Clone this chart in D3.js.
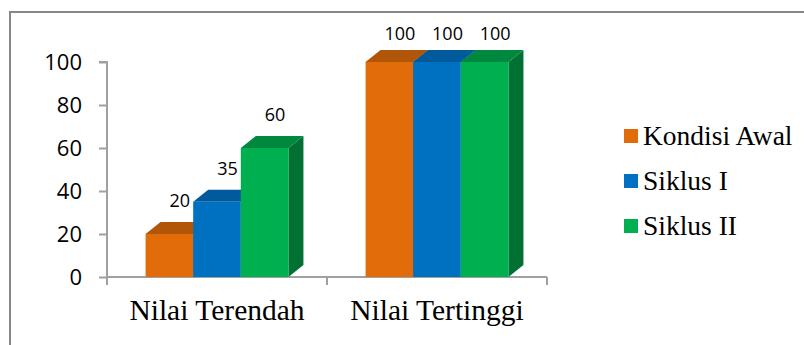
<!DOCTYPE html>
<html>
<head>
<meta charset="utf-8">
<script src="https://cdn.jsdelivr.net/npm/d3@7"></script>
<style>
  html, body { margin: 0; padding: 0; background: #fff; }
  svg { display: block; }
</style>
</head>
<body>
<svg id="chart" width="804" height="345"></svg>
<script>
// Scores per category and cycle
const categories = ["Nilai Terendah", "Nilai Tertinggi"];
const seriesNames = ["Kondisi Awal", "Siklus I", "Siklus II"];
const kondisiAwal = [20, 100];
const siklusI = [35, 100];
const siklusII = [60, 100];
const yTicks = [0, 20, 40, 60, 80, 100];

const seriesValues = [kondisiAwal, siklusI, siklusII];
// front / top / side shades for each series
const faceColors = [
  { front: "#E36C0A", top: "#B15508", side: "#9C4A06" },
  { front: "#0070C0", top: "#005A9C", side: "#004E88" },
  { front: "#00B050", top: "#00893E", side: "#007033" }
];

const svg = d3.select("#chart");

// outer frame
svg.append("rect")
  .attr("x", 10).attr("y", 12)
  .attr("width", 820).attr("height", 360)
  .attr("fill", "none")
  .attr("stroke", "#878787")
  .attr("stroke-width", 2);

const plot = { left: 107, right: 547, top: 62, bottom: 277 };
const depth = { dx: 15, dy: 12 };

const x0 = d3.scaleBand()
  .domain(categories)
  .range([plot.left, plot.right]);

const x1 = d3.scaleBand()
  .domain(seriesNames)
  .range([0, x0.bandwidth()])
  .paddingInner(0)
  .paddingOuter(0.81);

const y = d3.scaleLinear()
  .domain([0, 100])
  .range([plot.bottom, plot.top]);

// y axis
const yAxis = d3.axisLeft(y)
  .tickValues(yTicks)
  .tickSize(8)
  .tickPadding(17)
  .tickFormat(d3.format("d"));

const gy = svg.append("g")
  .attr("transform", `translate(${plot.left},0)`)
  .call(yAxis);
gy.select(".domain").attr("stroke", "#A0A0A0").attr("stroke-width", 2)
  .attr("d", `M-8,${plot.top}H0V${plot.bottom + 8}`);
gy.selectAll(".tick line").attr("stroke", "#A0A0A0").attr("stroke-width", 2);
gy.selectAll(".tick text")
  .attr("font-family", "'Open Sans', sans-serif")
  .attr("font-size", 22)
  .attr("fill", "#000");

// x axis baseline with ticks at category boundaries
const gx = svg.append("g");
gx.append("line")
  .attr("x1", plot.left).attr("x2", plot.right)
  .attr("y1", y(0)).attr("y2", y(0))
  .attr("stroke", "#A0A0A0").attr("stroke-width", 2);
const boundaries = categories.map(c => x0(c)).concat([x0(categories[categories.length - 1]) + x0.bandwidth()]);
gx.selectAll("line.tick")
  .data(boundaries)
  .join("line")
  .attr("class", "tick")
  .attr("x1", d => d).attr("x2", d => d)
  .attr("y1", y(0)).attr("y2", y(0) + 8)
  .attr("stroke", "#A0A0A0").attr("stroke-width", 2);
gx.selectAll("text")
  .data(categories)
  .join("text")
  .attr("x", d => x0(d) + x0.bandwidth() / 2)
  .attr("y", 320)
  .attr("text-anchor", "middle")
  .attr("font-family", "'Liberation Serif', 'Times New Roman', serif")
  .attr("font-size", 29.5)
  .attr("fill", "#000")
  .text(d => d);

// 3D columns
const bars = [];
categories.forEach((cat, ci) => {
  seriesNames.forEach((s, si) => {
    bars.push({ cat, s, si, value: seriesValues[si][ci] });
  });
});

const gBars = svg.append("g");
bars.forEach(b => {
  const xl = x0(b.cat) + x1(b.s);
  const xr = xl + x1.bandwidth();
  const yt = y(b.value);
  const yb = y(0);
  const c = faceColors[b.si];
  const { dx, dy } = depth;
  // side face
  gBars.append("path")
    .attr("d", `M${xr},${yb}L${xr},${yt}L${xr + dx},${yt - dy}L${xr + dx},${yb - dy}Z`)
    .attr("fill", c.side);
  // top face
  gBars.append("path")
    .attr("d", `M${xl},${yt}L${xl + dx},${yt - dy}L${xr + dx},${yt - dy}L${xr},${yt}Z`)
    .attr("fill", c.top);
  // front face
  gBars.append("rect")
    .attr("x", xl).attr("y", yt)
    .attr("width", x1.bandwidth()).attr("height", yb - yt)
    .attr("fill", c.front);
});

// value labels above each column
svg.append("g").selectAll("text")
  .data(bars)
  .join("text")
  .attr("x", d => x0(d.cat) + x1(d.s) + x1.bandwidth() / 2 + depth.dx / 2 + 3)
  .attr("y", d => Math.max(y(d.value) - depth.dy - 15, 40))
  .attr("text-anchor", "middle")
  .attr("font-family", "'Open Sans', sans-serif")
  .attr("font-size", 18)
  .attr("fill", "#000")
  .text(d => d.value);

// legend
const legend = svg.append("g").attr("transform", "translate(624,136)");
const items = legend.selectAll("g")
  .data(seriesNames)
  .join("g")
  .attr("transform", (d, i) => `translate(0,${i * 45})`);
items.append("rect")
  .attr("x", 0).attr("y", -7)
  .attr("width", 14).attr("height", 14)
  .attr("fill", (d, i) => faceColors[i].front);
items.append("text")
  .attr("x", 19).attr("y", 9)
  .attr("font-family", "'Liberation Serif', 'Times New Roman', serif")
  .attr("font-size", 27.5)
  .attr("fill", "#000")
  .text(d => d);
</script>
</body>
</html>
